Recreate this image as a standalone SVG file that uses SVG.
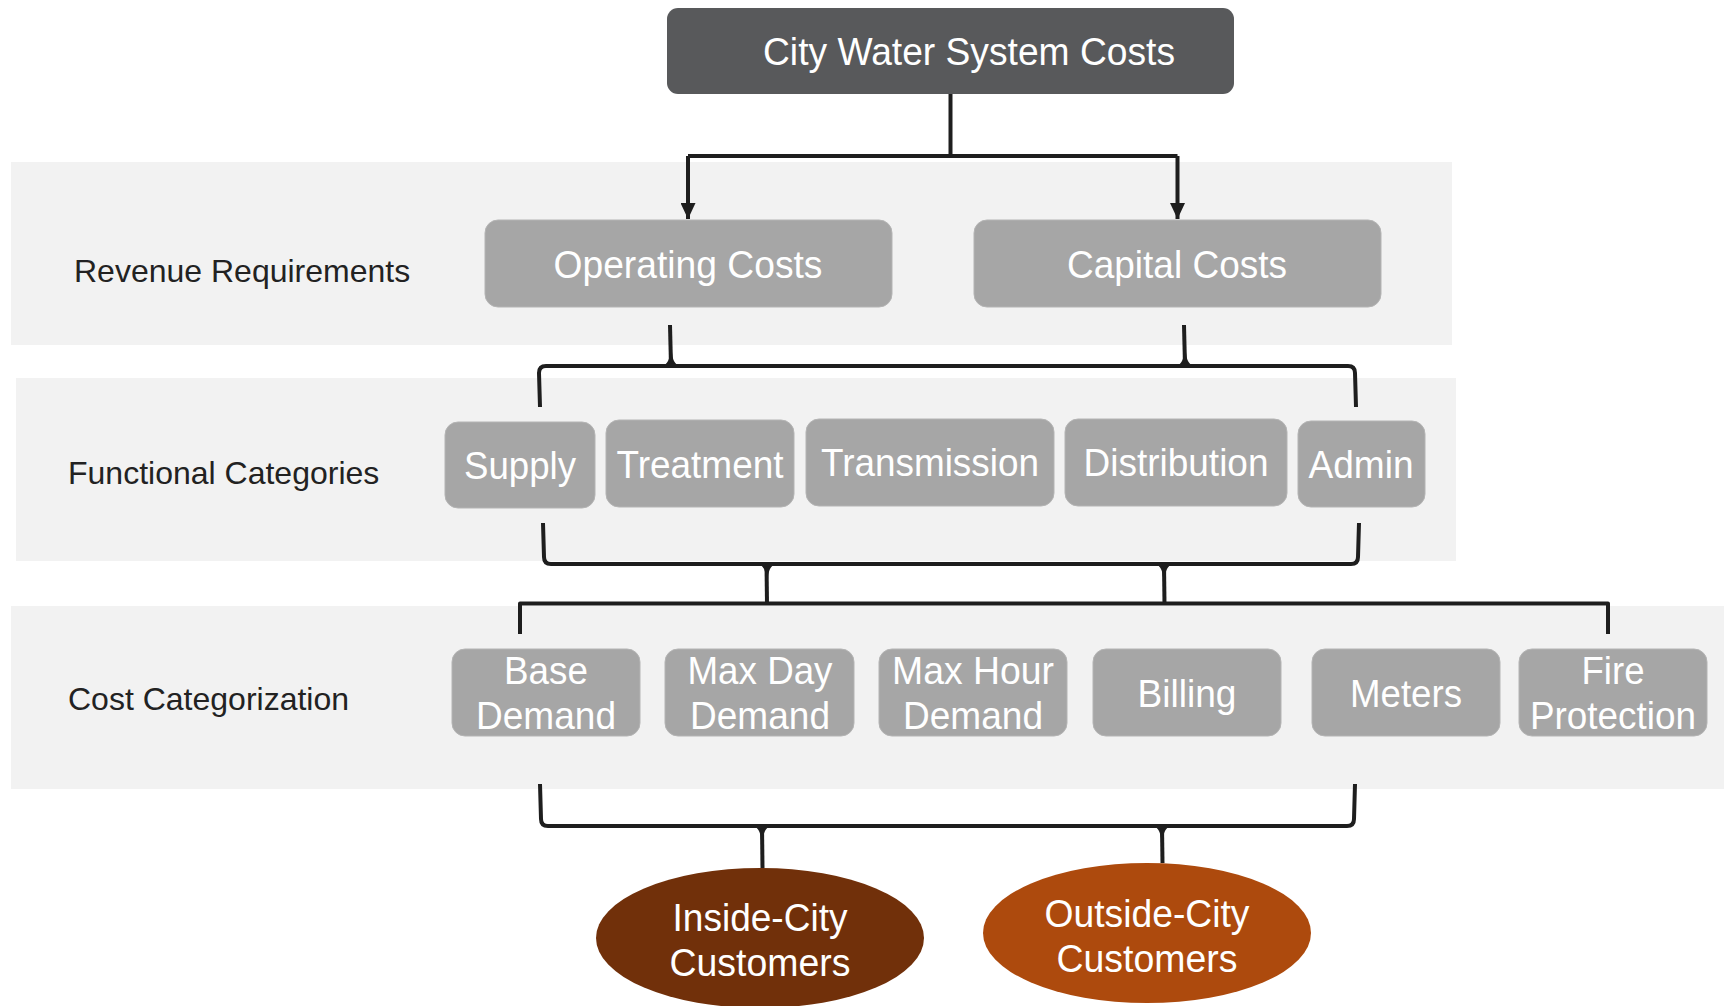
<svg xmlns="http://www.w3.org/2000/svg" width="1727" height="1006" viewBox="0 0 1727 1006">
  <defs>
    <style>
      .band { fill: #f2f2f2; }
      .band-label { font-family: "Liberation Sans", Arial, sans-serif; font-size: 32px; fill: #222222; }
      .box { fill: #a6a6a6; stroke: #b4b4b4; stroke-width: 1; }
      .box-top { fill: #58595b; }
      .txt { font-family: "Liberation Sans", Arial, sans-serif; font-size: 39px; fill: #ffffff; text-anchor: middle; }
      .wire { fill: none; stroke: #1e1e1e; stroke-width: 4; stroke-linejoin: round; stroke-linecap: butt; }
      .flare { fill: #1e1e1e; }
    </style>
    <marker id="arrowhead" markerUnits="userSpaceOnUse" markerWidth="16" markerHeight="15" refX="16" refY="7.5" orient="auto">
      <path d="M0,0 L16,7.5 L0,15 Z" fill="#1e1e1e"/>
    </marker>
  </defs>

  <rect width="1727" height="1006" fill="#ffffff"/>

  <!-- tier backgrounds -->
  <g id="bands">
    <rect class="band" x="11" y="162" width="1441" height="183"/>
    <rect class="band" x="16" y="378" width="1440" height="183"/>
    <rect class="band" x="11" y="606" width="1713" height="183"/>
  </g>

  <!-- tier captions -->
  <g id="tier-labels">
    <text class="band-label" x="74" y="282">Revenue Requirements</text>
    <text class="band-label" x="68" y="484">Functional Categories</text>
    <text class="band-label" x="68" y="710">Cost Categorization</text>
  </g>

  <!-- connectors -->
  <g id="connectors">
    <!-- top split with arrows -->
    <path class="wire" d="M950.5,94 L950.5,156"/>
    <path class="wire" d="M688,156 L1177.5,156"/>
    <path class="wire" d="M688,156 L688,219" marker-end="url(#arrowhead)"/>
    <path class="wire" d="M1177.5,156 L1177.5,219" marker-end="url(#arrowhead)"/>

    <!-- brace: revenue requirements to functional categories -->
    <path class="wire" d="M540,407 L539,373 Q539,366 546,366 L1348,366 Q1355,366 1355,373 L1356,407"/>
    <path class="wire" d="M670,325 L671,366"/>
    <path class="flare" d="M662,366 Q670,364 670,350 L672,350 Q672,364 680,366 Z"/>
    <path class="wire" d="M1184,325 L1185,366"/>
    <path class="flare" d="M1176,366 Q1184,364 1184,350 L1186,350 Q1186,364 1194,366 Z"/>

    <!-- brace: functional categories to cost categorization -->
    <path class="wire" d="M543,523 L544,557 Q544,564 551,564 L1351,564 Q1358,564 1358,557 L1359,523"/>
    <path class="wire" d="M766.5,564 L767,603.5"/>
    <path class="flare" d="M758,564 Q766,566 766,580 L768,580 Q768,566 776,564 Z"/>
    <path class="wire" d="M1164,564 L1164.5,603.5"/>
    <path class="flare" d="M1155,564 Q1163,566 1163,580 L1165,580 Q1165,566 1173,564 Z"/>

    <!-- cost categorization rail -->
    <path class="wire" d="M520,634 L520,603.5 L1608,603.5 L1608,634"/>

    <!-- brace: cost categorization to customer classes -->
    <path class="wire" d="M540,784 L541,819 Q541,826 548,826 L1347,826 Q1354,826 1354,819 L1355,784"/>
    <path class="wire" d="M762,826 L762.5,868"/>
    <path class="flare" d="M753,826 Q761,828 761,842 L763,842 Q763,828 771,826 Z"/>
    <path class="wire" d="M1162,826 L1162.5,863"/>
    <path class="flare" d="M1153,826 Q1161,828 1161,842 L1163,842 Q1163,828 1171,826 Z"/>
  </g>

  <!-- root -->
  <g id="node-city-water-system-costs">
    <rect class="box-top" x="667" y="8" width="567" height="86" rx="11"/>
    <text class="txt" x="969" y="65" textLength="412" lengthAdjust="spacingAndGlyphs">City Water System Costs</text>
  </g>

  <!-- revenue requirements -->
  <g id="node-operating-costs">
    <rect class="box" x="485" y="220" width="407" height="87" rx="13"/>
    <text class="txt" x="688" y="278" textLength="269" lengthAdjust="spacingAndGlyphs">Operating Costs</text>
  </g>
  <g id="node-capital-costs">
    <rect class="box" x="974" y="220" width="407" height="87" rx="13"/>
    <text class="txt" x="1177" y="278" textLength="220" lengthAdjust="spacingAndGlyphs">Capital Costs</text>
  </g>

  <!-- functional categories -->
  <g id="node-supply">
    <rect class="box" x="445" y="422" width="150" height="86" rx="13"/>
    <text class="txt" x="520" y="479" textLength="112" lengthAdjust="spacingAndGlyphs">Supply</text>
  </g>
  <g id="node-treatment">
    <rect class="box" x="606" y="420" width="188" height="87" rx="13"/>
    <text class="txt" x="700" y="478" textLength="167" lengthAdjust="spacingAndGlyphs">Treatment</text>
  </g>
  <g id="node-transmission">
    <rect class="box" x="806" y="419" width="248" height="87" rx="13"/>
    <text class="txt" x="930" y="476" textLength="218" lengthAdjust="spacingAndGlyphs">Transmission</text>
  </g>
  <g id="node-distribution">
    <rect class="box" x="1065" y="419" width="222" height="87" rx="13"/>
    <text class="txt" x="1176" y="476" textLength="185" lengthAdjust="spacingAndGlyphs">Distribution</text>
  </g>
  <g id="node-admin">
    <rect class="box" x="1298" y="421" width="127" height="86" rx="13"/>
    <text class="txt" x="1361" y="478" textLength="105" lengthAdjust="spacingAndGlyphs">Admin</text>
  </g>

  <!-- cost categorization -->
  <g id="node-base-demand">
    <rect class="box" x="452" y="649" width="188" height="87" rx="13"/>
    <text class="txt" x="546" y="684" textLength="84" lengthAdjust="spacingAndGlyphs">Base</text>
    <text class="txt" x="546" y="729" textLength="140" lengthAdjust="spacingAndGlyphs">Demand</text>
  </g>
  <g id="node-max-day-demand">
    <rect class="box" x="665" y="649" width="189" height="87" rx="13"/>
    <text class="txt" x="760" y="684" textLength="145" lengthAdjust="spacingAndGlyphs">Max Day</text>
    <text class="txt" x="760" y="729" textLength="140" lengthAdjust="spacingAndGlyphs">Demand</text>
  </g>
  <g id="node-max-hour-demand">
    <rect class="box" x="879" y="649" width="188" height="87" rx="13"/>
    <text class="txt" x="973" y="684" textLength="162" lengthAdjust="spacingAndGlyphs">Max Hour</text>
    <text class="txt" x="973" y="729" textLength="140" lengthAdjust="spacingAndGlyphs">Demand</text>
  </g>
  <g id="node-billing">
    <rect class="box" x="1093" y="649" width="188" height="87" rx="13"/>
    <text class="txt" x="1187" y="707" textLength="99" lengthAdjust="spacingAndGlyphs">Billing</text>
  </g>
  <g id="node-meters">
    <rect class="box" x="1312" y="649" width="188" height="87" rx="13"/>
    <text class="txt" x="1406" y="707" textLength="112" lengthAdjust="spacingAndGlyphs">Meters</text>
  </g>
  <g id="node-fire-protection">
    <rect class="box" x="1519" y="649" width="188" height="87" rx="13"/>
    <text class="txt" x="1613" y="684" textLength="63" lengthAdjust="spacingAndGlyphs">Fire</text>
    <text class="txt" x="1613" y="729" textLength="166" lengthAdjust="spacingAndGlyphs">Protection</text>
  </g>

  <!-- customer classes -->
  <g id="node-inside-city-customers">
    <ellipse cx="760" cy="938" rx="164" ry="70" fill="#71300a"/>
    <text class="txt" x="760" y="931" textLength="175" lengthAdjust="spacingAndGlyphs">Inside-City</text>
    <text class="txt" x="760" y="976" textLength="181" lengthAdjust="spacingAndGlyphs">Customers</text>
  </g>
  <g id="node-outside-city-customers">
    <ellipse cx="1147" cy="933" rx="164" ry="70" fill="#ad4a0d"/>
    <text class="txt" x="1147" y="927" textLength="205" lengthAdjust="spacingAndGlyphs">Outside-City</text>
    <text class="txt" x="1147" y="972" textLength="181" lengthAdjust="spacingAndGlyphs">Customers</text>
  </g>
</svg>
